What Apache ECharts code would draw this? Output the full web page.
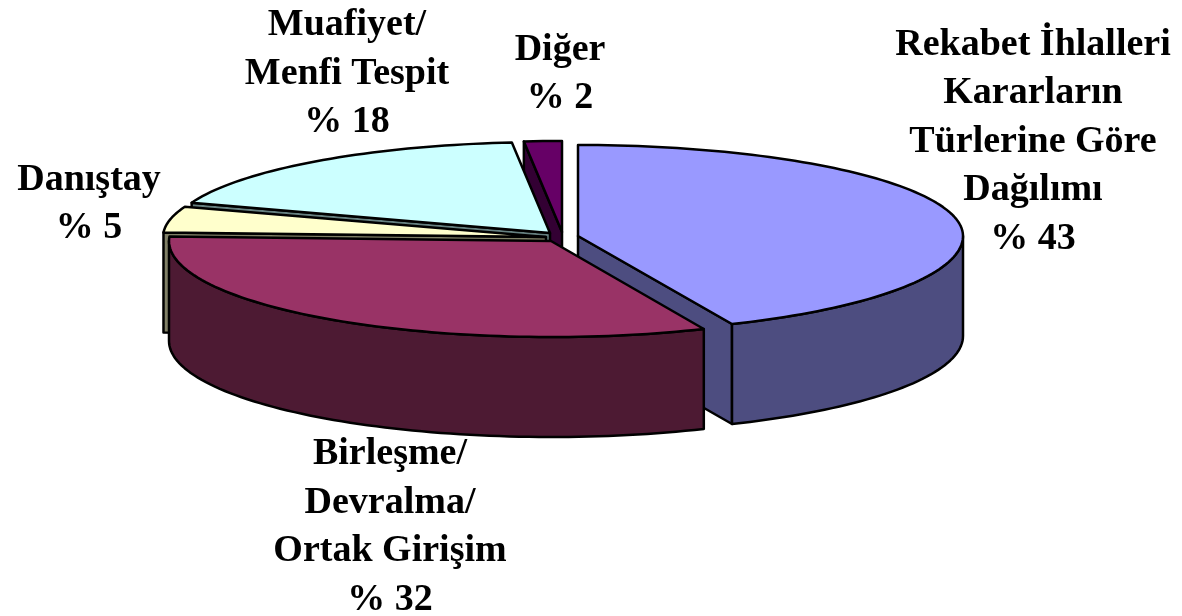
<!DOCTYPE html>
<html>
<head>
<meta charset="utf-8">
<title>Rekabet İhlalleri</title>
<style>
html, body { margin: 0; padding: 0; background: #fff; }
#main { width: 1182px; height: 616px; }
</style>
<script src="https://cdn.jsdelivr.net/npm/echarts@6/dist/echarts.min.js"></script>
</head>
<body>
<div id="main"></div>
<script>
// pie values, clockwise from 12 o'clock (labels show them rounded)
var sliceNames = ["Rekabet İhlalleri\nKararların\nTürlerine Göre\nDağılımı", "Birleşme/\nDevralma/\nOrtak Girişim", "Danıştay", "Muafiyet/\nMenfi Tespit", "Diğer"];
var sliceValues = [43.45, 32.35, 4.6, 18.0, 1.6];

var topColors = ["#9999ff", "#993366", "#ffffcc", "#ccffff", "#660066"];
var sideColors = ["#4d4d80", "#4d1a33", "#808066", "#668080", "#330033"];

// exploded apex of every slice, and where its label goes
var apexes = [[578, 236], [551, 241], [546, 237], [550, 233], [562, 232]];
var labelCenters = [[1033, 142], [390, 527], [89, 204], [347, 74], [560, 74]];

var radiusX = [385, 382, 383, 380, 380];
var radiusBack = 91;   // far half of the ellipse
var radiusFront = 96;  // near half, a bit bigger for the perspective
var depth = 100;

var paintOrder = [4, 3, 2, 0, 1]; // back to front

var total = 0;
var startAngles = [];
for (var i = 0; i < sliceValues.length; i++) {
    startAngles.push(total / 100 * 360);
    total += sliceValues[i];
}

function rimPoint(idx, deg) {
    var a = deg * Math.PI / 180;
    var c = Math.cos(a);
    return [apexes[idx][0] + radiusX[idx] * Math.sin(a),
            apexes[idx][1] - (c > 0 ? radiusBack : radiusFront) * c];
}

function shifted(p) {
    return [p[0], p[1] + depth];
}

function arcPoints(idx, from, to) {
    var pts = [];
    var n = Math.max(2, Math.ceil((to - from) / 1.5));
    for (var k = 0; k <= n; k++) {
        pts.push(rimPoint(idx, from + (to - from) * k / n));
    }
    return pts;
}

function poly(points, fill) {
    return {
        type: 'polygon',
        shape: { points: points },
        style: { fill: fill, stroke: '#000', lineWidth: 2.5, lineJoin: 'round' }
    };
}

function renderSlice(params, api) {
    var idx = api.value(0);
    var from = startAngles[idx];
    var to = from + sliceValues[idx] / 100 * 360;
    var apex = apexes[idx];
    var children = [];

    // cut faces, only the ones that look towards the viewer
    var startNormal = (from - 90) * Math.PI / 180;
    var endNormal = (to + 90) * Math.PI / 180;
    if (Math.cos(startNormal) < -0.001) {
        var s = rimPoint(idx, from);
        children.push(poly([apex, s, shifted(s), shifted(apex)], sideColors[idx]));
    }
    if (Math.cos(endNormal) < -0.001) {
        var e = rimPoint(idx, to);
        children.push(poly([apex, e, shifted(e), shifted(apex)], sideColors[idx]));
    }

    // outer wall, front half only
    var wallFrom = Math.max(from, 90);
    var wallTo = Math.min(to, 270);
    if (wallTo > wallFrom) {
        var rim = arcPoints(idx, wallFrom, wallTo);
        children.push(poly(rim.concat(rim.map(shifted).reverse()), sideColors[idx]));
    }

    // top surface
    children.push(poly([apex].concat(arcPoints(idx, from, to)), topColors[idx]));

    children.push({
        type: 'text',
        x: labelCenters[idx][0],
        y: labelCenters[idx][1],
        style: {
            text: sliceNames[idx] + "\n% " + Math.round(sliceValues[idx]),
            fill: '#000',
            font: 'bold 38px "Liberation Serif"',
            lineHeight: 48.5,
            align: 'center',
            verticalAlign: 'middle'
        }
    });

    return { type: 'group', children: children };
}

var myChart = echarts.init(document.getElementById('main'));
myChart.setOption({
    animation: false,
    backgroundColor: '#fff',
    series: [{
        type: 'custom',
        coordinateSystem: 'none',
        silent: true,
        renderItem: renderSlice,
        data: paintOrder.map(function (idx) { return [idx]; })
    }]
});
</script>
</body>
</html>
